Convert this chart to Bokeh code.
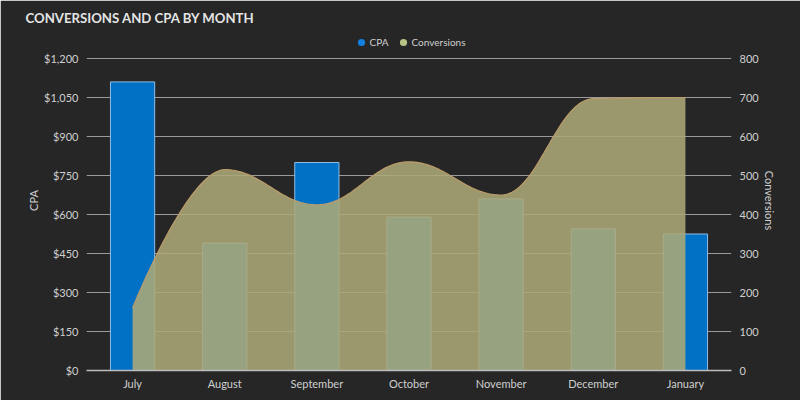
import numpy as np
from bokeh.plotting import figure
from bokeh.models import (FactorRange, Range1d, LinearAxis, FixedTicker,
                          NumeralTickFormatter, Legend, LegendItem)
from bokeh.embed import file_html
from bokeh.resources import INLINE

months = ["July", "August", "September", "October", "November", "December", "January"]
cpa = [1110, 490, 800, 590, 660, 545, 525]
conversions = [160, 515, 425, 535, 450, 697, 700]
cpa_ticks = [0, 150, 300, 450, 600, 750, 900, 1050, 1200]
conv_ticks = [0, 100, 200, 300, 400, 500, 600, 700, 800]

BG = "#262626"
TXT = "#cfcfcf"
FONT = "Lato"

# frame spans 340 px; the top tick (1200 / 800) sits 28 px below the frame top
FRAME_H = 340
TOP_PAD = 28
scale = FRAME_H / (FRAME_H - TOP_PAD)


def spline_path(xs, ys, smoothing=1.5, steps=40):
    """Smooth curve (areaspline style) through the given points."""
    n = len(xs)
    lefts, rights = [], []
    for i in range(n):
        x, y = xs[i], ys[i]
        if i == 0 or i == n - 1:
            lefts.append((x, y)); rights.append((x, y)); continue
        px, py = xs[i - 1], ys[i - 1]
        nx, ny = xs[i + 1], ys[i + 1]
        d = smoothing + 1
        lx = (smoothing * x + px) / d; ly = (smoothing * y + py) / d
        rx = (smoothing * x + nx) / d; ry = (smoothing * y + ny) / d
        if rx != lx:
            corr = ((ry - ly) * (rx - x)) / (rx - lx) + y - ry
            ly += corr; ry += corr
        if ly > py and ly > y:
            ly = max(py, y); ry = 2 * y - ly
        elif ly < py and ly < y:
            ly = min(py, y); ry = 2 * y - ly
        if ry > ny and ry > y:
            ry = max(ny, y); ly = 2 * y - ry
        elif ry < ny and ry < y:
            ry = min(ny, y); ly = 2 * y - ry
        lefts.append((lx, ly)); rights.append((rx, ry))
    cx, cy = [xs[0]], [ys[0]]
    t = np.linspace(0, 1, steps)[1:]
    for i in range(1, n):
        p0 = (xs[i - 1], ys[i - 1]); c1 = rights[i - 1]; c2 = lefts[i]; p3 = (xs[i], ys[i])
        for k in range(2):
            v = ((1 - t) ** 3 * p0[k] + 3 * (1 - t) ** 2 * t * c1[k]
                 + 3 * (1 - t) * t ** 2 * c2[k] + t ** 3 * p3[k])
            (cx if k == 0 else cy).extend(v.tolist())
    return cx, cy


p = figure(width=800, height=400, x_range=FactorRange(*months),
           y_range=Range1d(0, cpa_ticks[-1] * scale), output_backend="svg",
           toolbar_location=None,
           background_fill_color=BG, border_fill_color=BG,
           outline_line_color=BG, outline_line_width=2,
           min_border_left=86, min_border_right=69, min_border_top=30, min_border_bottom=30)
p.extra_y_ranges = {"conv": Range1d(0, conv_ticks[-1] * scale)}

p.title.text = "CONVERSIONS AND CPA BY MONTH"
p.title.align = "left"
p.title.offset = -61
p.title.text_font = FONT
p.title.text_font_style = "bold"
p.title.text_font_size = "13.2px"
p.title.text_color = "#e4e4e4"

ax = p.yaxis[0]
ax.ticker = FixedTicker(ticks=cpa_ticks)
ax.formatter = NumeralTickFormatter(format="$0,0")
ax.axis_label = "CPA"

conv_axis = LinearAxis(y_range_name="conv", ticker=FixedTicker(ticks=conv_ticks),
                       axis_label="Conversions")
p.add_layout(conv_axis, "right")

for a in [ax, conv_axis]:
    a.axis_line_color = None
    a.major_tick_line_color = None
    a.minor_tick_line_color = None
    a.major_tick_out = 0
    a.major_tick_in = 0
    a.minor_tick_out = 0
    a.minor_tick_in = 0
    a.major_label_text_color = TXT
    a.major_label_text_font = FONT
    a.major_label_text_font_size = "11px"
    a.major_label_standoff = 8
    a.axis_label_text_color = TXT
    a.axis_label_text_font = FONT
    a.axis_label_text_font_size = "11px"
    a.axis_label_text_font_style = "normal"
ax.axis_label_standoff = 1
conv_axis.axis_label_standoff = 1

xa = p.xaxis[0]
xa.axis_line_color = "#bdbdbd"
xa.axis_line_width = 1.5
xa.major_tick_line_color = None
xa.minor_tick_line_color = None
xa.major_tick_out = 0
xa.major_tick_in = 0
xa.major_label_text_color = TXT
xa.major_label_text_font = FONT
xa.major_label_text_font_size = "11px"
xa.major_label_standoff = 6

p.xgrid.grid_line_color = None
p.ygrid.grid_line_color = "#9a9a9a"
p.ygrid.grid_line_width = 1.2

# CPA bars
p.vbar(x=months, top=cpa, width=0.48, fill_color="#0071c5",
       line_color="#8fbde6", line_width=1)

# conversions areaspline
xs = [i + 0.5 for i in range(len(months))]
cx, cy = spline_path(xs, conversions)
p.varea(x=cx, y1=[0] * len(cx), y2=cy, fill_color="#aca978", fill_alpha=0.88,
        y_range_name="conv")
p.line(x=cx, y=cy, line_color="#bc9c6a", line_width=1.2, y_range_name="conv")

# legend markers
r_cpa = p.scatter(x=[months[0]], y=[-100], marker="circle", size=10,
                  fill_color="#1180e0", line_color=None)
r_conv = p.scatter(x=[months[0]], y=[-100], marker="circle", size=10,
                   fill_color="#b6c584", line_color=None)
legend = Legend(items=[LegendItem(label="CPA", renderers=[r_cpa]),
                       LegendItem(label="Conversions", renderers=[r_conv])],
                orientation="horizontal", location="top_center",
                background_fill_alpha=0, border_line_alpha=0,
                label_text_color=TXT, label_text_font=FONT, label_text_font_size="10px",
                glyph_width=18, glyph_height=20, label_height=20,
                label_standoff=0, spacing=4, padding=0, margin=2)
p.add_layout(legend, "center")

open("out.html", "w").write(file_html(p, INLINE))
